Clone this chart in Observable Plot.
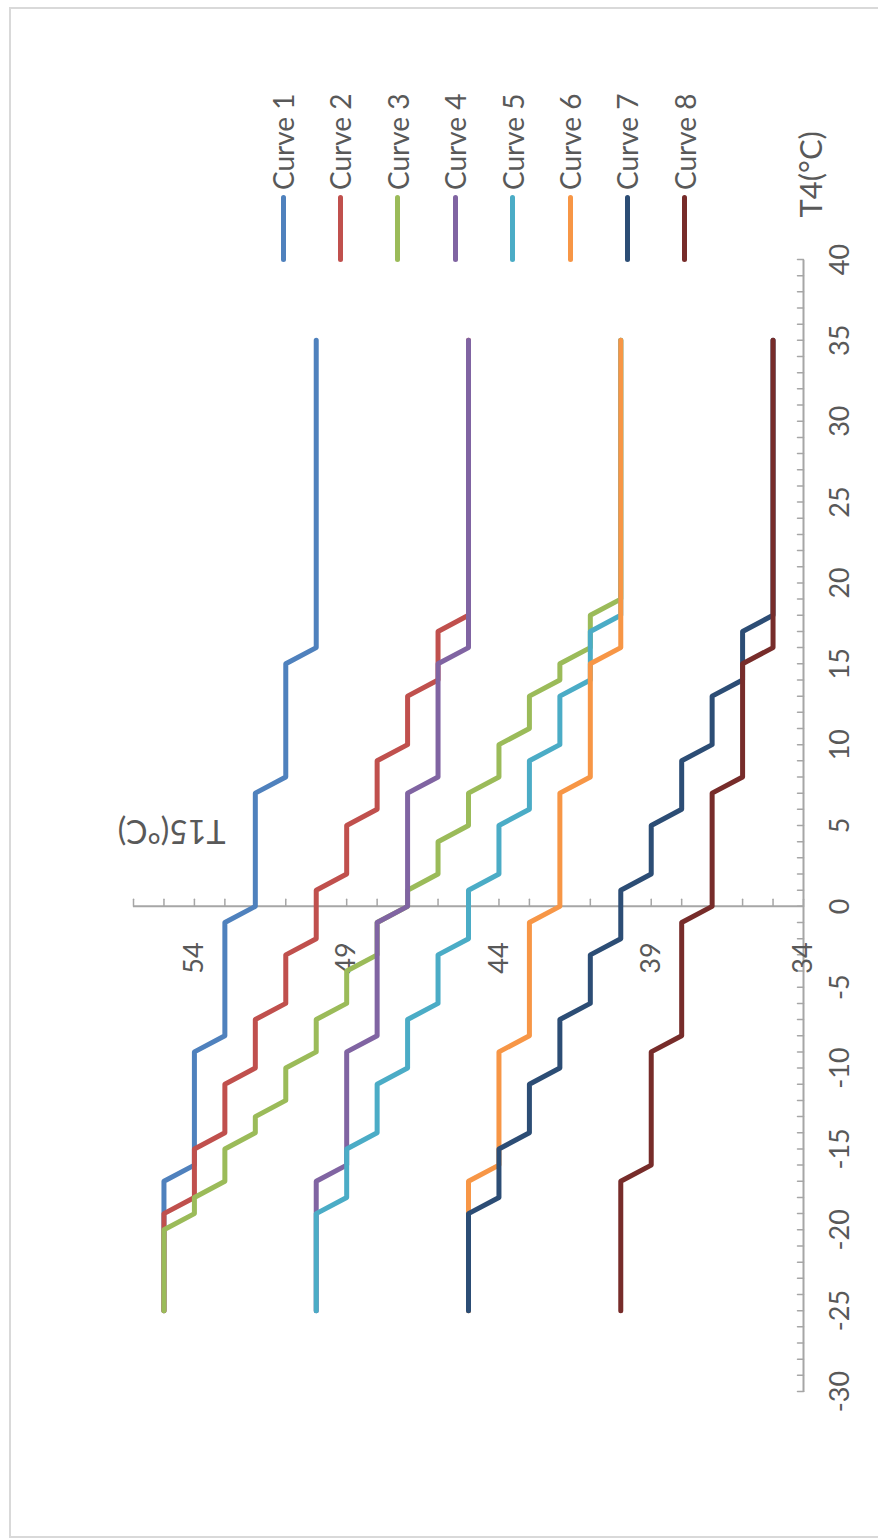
<!DOCTYPE html>
<html>
<head>
<meta charset="utf-8">
<script src="https://cdn.jsdelivr.net/npm/d3@7"></script>
<script src="https://cdn.jsdelivr.net/npm/@observablehq/plot@0.6"></script>
<style>
  html, body { margin: 0; padding: 0; background: #fff; width: 878px; height: 1539px; overflow: hidden; }
  #frame { position: absolute; left: 9px; top: 7px; width: 900px; height: 1531px; border: 2px solid #d9d9d9; box-sizing: border-box; }
  #rot { position: absolute; left: 0; top: 0; width: 1539px; height: 878px; transform-origin: 0 0;
         transform: translate(0, 1539px) rotate(-90deg); font-family: Lato, "Open Sans", sans-serif; }
  #chart { position: absolute; left: 0; top: 0; }
  .item { position: absolute; left: 1277px; height: 0; display: flex; align-items: center; }
  .sw { width: 67px; height: 5px; border-radius: 3px; flex: none; }
  .lab { margin-left: 5px; font-size: 28px; color: #595959; white-space: nowrap; line-height: 1; }
</style>
</head>
<body>
<div id="frame"></div>
<div id="rot"><div id="chart"></div><div id="legend"></div></div>
<script>
// ---- data (T4 °C, T15 °C) ----
const curveNames = ["Curve 1", "Curve 2", "Curve 3", "Curve 4", "Curve 5", "Curve 6", "Curve 7", "Curve 8"];
const curveColors = ["#4F81BD", "#C0504D", "#9BBB59", "#8064A2", "#4BACC6", "#F79646", "#2C4D75", "#772C2A"];

const curve1 = [[-25,55],[-17,55],[-16,54],[-9,54],[-8,53],[-1,53],[0,52],[7,52],[8,51],[15,51],[16,50],[35,50]];
const curve2 = [[-25,55],[-19,55],[-18,54],[-15,54],[-14,53],[-11,53],[-10,52],[-7,52],[-6,51],[-3,51],[-2,50],[1,50],[2,49],[5,49],[6,48],[9,48],[10,47],[13,47],[14,46],[17,46],[18,45],[35,45]];
const curve3 = [[-25,55],[-20,55],[-19,54],[-18,54],[-17,53],[-15,53],[-14,52],[-13,52],[-12,51],[-10,51],[-9,50],[-7,50],[-6,49],[-4,49],[-3,48],[-1,48],[0,47],[1,47],[2,46],[4,46],[5,45],[7,45],[8,44],[10,44],[11,43],[13,43],[14,42],[15,42],[16,41],[18,41],[19,40],[35,40]];
const curve4 = [[-25,50],[-17,50],[-16,49],[-9,49],[-8,48],[-1,48],[0,47],[7,47],[8,46],[15,46],[16,45],[35,45]];
const curve5 = [[-25,50],[-19,50],[-18,49],[-15,49],[-14,48],[-11,48],[-10,47],[-7,47],[-6,46],[-3,46],[-2,45],[1,45],[2,44],[5,44],[6,43],[9,43],[10,42],[13,42],[14,41],[17,41],[18,40],[35,40]];
const curve6 = [[-25,45],[-17,45],[-16,44],[-9,44],[-8,43],[-1,43],[0,42],[7,42],[8,41],[15,41],[16,40],[35,40]];
const curve7 = [[-25,45],[-19,45],[-18,44],[-15,44],[-14,43],[-11,43],[-10,42],[-7,42],[-6,41],[-3,41],[-2,40],[1,40],[2,39],[5,39],[6,38],[9,38],[10,37],[13,37],[14,36],[17,36],[18,35],[35,35]];
const curve8 = [[-25,40],[-17,40],[-16,39],[-9,39],[-8,38],[-1,38],[0,37],[7,37],[8,36],[15,36],[16,35],[35,35]];

const t4TickLabels = [-30, -25, -20, -15, -10, -5, 0, 5, 10, 15, 20, 25, 30, 35, 40];
const t15TickLabels = [34, 39, 44, 49, 54];
const t4Domain = [-30, 40];
const t15Domain = [34, 56];
const xTitle = "T4(°C)";
const yTitle = "T15(°C)";

// ---- build ----
const curves = [curve1, curve2, curve3, curve4, curve5, curve6, curve7, curve8];
const data = curves.flatMap((pts, i) => pts.map(([t4, t15]) => ({curve: curveNames[i], t4, t15})));
const t4Minor = d3.range(t4Domain[0], t4Domain[1] + 1);
const t15Minor = d3.range(t15Domain[0], t15Domain[1] + 1);

const axisColor = "#a6a6a6";
const labelColor = "#595959";
const tickShape = {draw(context, l) { context.moveTo(0, 0); context.lineTo(0, -l); }};

const chart = Plot.plot({
  width: 1539,
  height: 878,
  marginLeft: 147,
  marginRight: 260,
  marginTop: 133,
  marginBottom: 75,
  x: {domain: t4Domain, axis: null},
  y: {domain: t15Domain, axis: null},
  color: {domain: curveNames, range: curveColors},
  style: {fontFamily: "Lato, 'Open Sans', sans-serif", background: "transparent", overflow: "visible"},
  marks: [
    Plot.ruleY([t15Domain[0]], {stroke: axisColor, strokeWidth: 2}),
    Plot.vector(t4Minor, {x: d => d, y: () => t15Domain[0], length: 6, rotate: 0, anchor: "start", shape: tickShape, stroke: axisColor, strokeWidth: 1.5}),
    Plot.ruleX([0], {stroke: axisColor, strokeWidth: 2}),
    Plot.vector(t15Minor, {x: () => 0, y: d => d, length: 7, rotate: 90, anchor: "start", shape: tickShape, stroke: axisColor, strokeWidth: 1.5}),
    Plot.text(t4TickLabels, {x: d => d, frameAnchor: "bottom", dy: 37, text: d => String(d), fontSize: 27, fill: labelColor, lineAnchor: "middle"}),
    Plot.text(t15TickLabels, {x: () => 0, y: d => d, dx: -36, text: d => String(d), textAnchor: "end", fontSize: 27, fill: labelColor, lineAnchor: "middle"}),
    Plot.text([yTitle], {frameAnchor: "top-left", dx: 561, dy: 38, rotate: -90, textAnchor: "middle", lineAnchor: "middle", fontSize: 32, fill: labelColor}),
    Plot.text([xTitle], {frameAnchor: "bottom-right", dx: 42, dy: 9, textAnchor: "start", lineAnchor: "middle", fontSize: 31, fill: labelColor}),
    Plot.line(data, {x: "t4", y: "t15", z: "curve", stroke: "curve", strokeWidth: 5, strokeLinejoin: "round", strokeLinecap: "round"})
  ]
});
document.getElementById("chart").appendChild(chart);

// legend (right side of the unrotated chart)
const legend = document.getElementById("legend");
curveNames.forEach((name, i) => {
  const item = document.createElement("div");
  item.className = "item";
  item.style.top = (283 + i * 57.4) + "px";
  const sw = document.createElement("div");
  sw.className = "sw";
  sw.style.background = curveColors[i];
  const lab = document.createElement("span");
  lab.className = "lab";
  lab.textContent = name;
  item.appendChild(sw);
  item.appendChild(lab);
  legend.appendChild(item);
});
</script>
</body>
</html>
